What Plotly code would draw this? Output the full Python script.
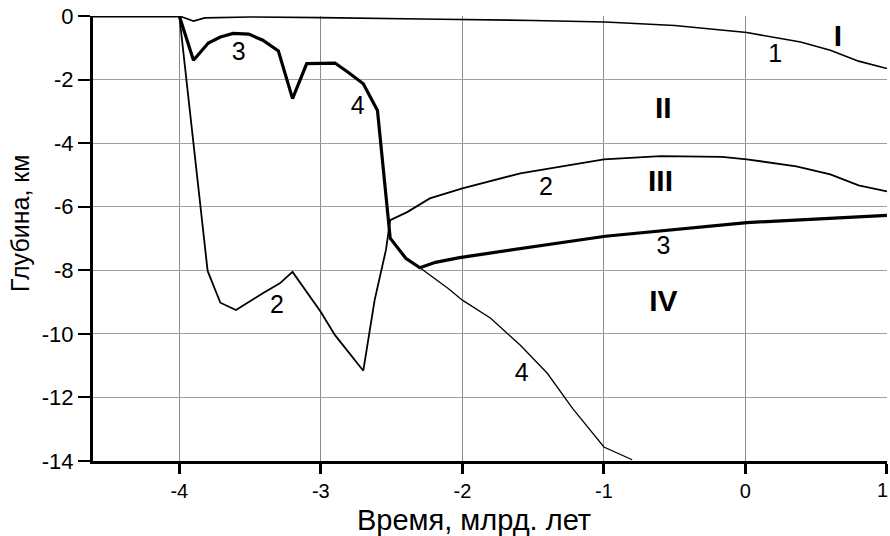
import plotly.graph_objects as go

# Curve 1 (thin)
c1_x = [-4.0, -3.9, -3.82, -3.5, -3.0, -2.5, -2.16, -1.5, -0.99, -0.5, 0.01, 0.39, 0.6, 0.8, 1.0]
c1_y = [0.0, -0.16, -0.06, -0.03, -0.05, -0.07, -0.10, -0.14, -0.19, -0.3, -0.52, -0.82, -1.08, -1.42, -1.65]

# Curve 2 (thin)
c2_x = [-4.0, -3.8, -3.71, -3.6, -3.41, -3.29, -3.2, -3.0, -2.9, -2.7, -2.62, -2.54, -2.51,
        -2.39, -2.23, -2.0, -1.59, -1.0, -0.6, -0.165, 0.01, 0.36, 0.6, 0.8, 1.0]
c2_y = [0.0, -8.02, -9.02, -9.25, -8.72, -8.41, -8.05, -9.31, -10.04, -11.16, -8.94, -7.36, -6.42,
        -6.17, -5.74, -5.42, -4.95, -4.51, -4.41, -4.43, -4.51, -4.73, -4.98, -5.33, -5.52]

# Curve 3 (thick)
c3_x = [-4.61, -4.0, -3.9, -3.795, -3.71, -3.62, -3.51, -3.41, -3.3, -3.2, -3.1, -2.9, -2.81, -2.7,
        -2.6, -2.52, -2.51, -2.4, -2.3, -2.19, -2.02, -0.99, 0.01, 1.0]
c3_y = [0.0, 0.0, -1.39, -0.85, -0.66, -0.55, -0.57, -0.76, -1.10, -2.60, -1.50, -1.48, -1.76, -2.13,
        -2.97, -6.74, -6.99, -7.62, -7.92, -7.75, -7.6, -6.93, -6.5, -6.27]

# Curve 4 (thin continuation below the junction)
c4_x = [-2.3, -2.1, -2.0, -1.8, -1.59, -1.4, -1.22, -1.0, -0.8]
c4_y = [-7.92, -8.57, -8.94, -9.51, -10.36, -11.24, -12.35, -13.56, -13.96]

# Curve number labels
num_text = ["1", "2", "2", "3", "3", "4", "4"]
num_x = [0.21, -1.41, -3.31, -3.58, -0.58, -2.74, -1.58]
num_y = [-1.24, -5.42, -9.16, -1.18, -7.28, -2.9, -11.3]

# Region labels
reg_text = ["<b>I</b>", "<b>II</b>", "<b>III</b>", "<b>IV</b>"]
reg_x = [0.654, -0.58, -0.60, -0.58]
reg_y = [-0.70, -2.97, -5.26, -9.04]

x_ticks = [-4, -3, -2, -1, 0, 1]
y_ticks = [0, -2, -4, -6, -8, -10, -12, -14]

x_title = "Время, млрд. лет"
y_title = "Глубина, км"

FONT = "Liberation Sans, Arial, sans-serif"

fig = go.Figure()
fig.add_trace(go.Scatter(x=c4_x, y=c4_y, mode="lines", line=dict(color="black", width=1.3)))
fig.add_trace(go.Scatter(x=c2_x, y=c2_y, mode="lines", line=dict(color="black", width=1.8)))
fig.add_trace(go.Scatter(x=c1_x, y=c1_y, mode="lines", line=dict(color="black", width=1.6)))
fig.add_trace(go.Scatter(x=c3_x, y=c3_y, mode="lines", line=dict(color="black", width=3.2)))

fig.add_trace(go.Scatter(x=num_x, y=num_y, mode="text", text=num_text,
                         textfont=dict(family=FONT, size=25, color="black")))
fig.add_trace(go.Scatter(x=reg_x, y=reg_y, mode="text", text=reg_text,
                         textfont=dict(family=FONT, size=30, color="black")))

# last x tick label drawn as annotation, nudged inside the page edge
last_tick = x_ticks[-1]
x_ticktext = [str(v) for v in x_ticks[:-1]] + [""]

fig.update_layout(
    width=890, height=536,
    margin=dict(l=93, r=3, t=16, b=75),
    paper_bgcolor="white", plot_bgcolor="white",
    showlegend=False,
    font=dict(family=FONT, color="black"),
    annotations=[
        dict(text=x_title, xref="paper", yref="paper", x=0.48, y=-0.1325,
             xanchor="center", yanchor="middle", showarrow=False,
             font=dict(size=29, family=FONT, color="black")),
        dict(text=y_title, xref="paper", yref="paper", x=-0.091, y=0.534,
             xanchor="center", yanchor="middle", showarrow=False, textangle=-90,
             font=dict(size=25, family=FONT, color="black")),
        dict(text=str(last_tick), xref="x", yref="paper", x=last_tick, y=-0.065,
             xanchor="right", yanchor="middle", showarrow=False, xshift=3,
             font=dict(size=20, family=FONT, color="black")),
    ],
)
fig.update_xaxes(
    range=[-4.61, 1.0005], tickvals=x_ticks, ticktext=x_ticktext,
    showgrid=True, gridcolor="#8a8a8a", gridwidth=1, zeroline=False,
    showline=True, linecolor="black", linewidth=3,
    ticks="outside", ticklen=10, tickwidth=3, tickcolor="black",
    tickfont=dict(size=20, family=FONT),
    automargin=False,
)
fig.update_yaxes(
    range=[-14, 0], tickvals=y_ticks, ticktext=[str(v) for v in y_ticks],
    showgrid=True, gridcolor="#a0a0a0", gridwidth=1, zeroline=False,
    showline=True, linecolor="black", linewidth=3,
    ticks="outside", ticklen=12, tickwidth=2, tickcolor="black",
    tickfont=dict(size=22, family=FONT),
    automargin=False,
)

fig.write_html("out.html")
